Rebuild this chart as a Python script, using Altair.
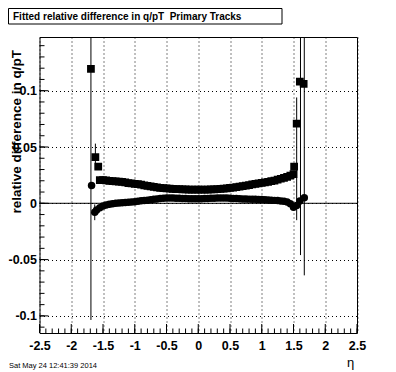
import altair as alt
import pandas as pd

# ---- data ----
sq_eta = [-1.69, -1.62, -1.575,
          -1.55, -1.50, -1.45, -1.40, -1.35, -1.30, -1.25, -1.20, -1.15, -1.10, -1.05,
          -1.00, -0.95, -0.90, -0.85, -0.80, -0.75, -0.70, -0.65, -0.60, -0.55,
          -0.50, -0.45, -0.40, -0.35, -0.30, -0.25, -0.20, -0.15, -0.10, -0.05,
          0.00, 0.05, 0.10, 0.15, 0.20, 0.25, 0.30, 0.35, 0.40, 0.45,
          0.50, 0.55, 0.60, 0.65, 0.70, 0.75, 0.80, 0.85, 0.90, 0.95,
          1.00, 1.05, 1.10, 1.15, 1.20, 1.25, 1.30, 1.35, 1.40, 1.45, 1.50,
          1.51, 1.55, 1.60, 1.66]
sq_val = [0.1194, 0.041, 0.0325,
          0.0205, 0.0205, 0.0203, 0.0200, 0.0198, 0.0195, 0.0192, 0.0190, 0.0185, 0.0180, 0.0177,
          0.0173, 0.0170, 0.0165, 0.0160, 0.0155, 0.0150, 0.0146, 0.0142, 0.0138, 0.0135,
          0.0132, 0.0130, 0.0128, 0.0126, 0.0125, 0.0124, 0.0123, 0.0122, 0.0122, 0.0121,
          0.0121, 0.0121, 0.0122, 0.0122, 0.0123, 0.0124, 0.0125, 0.0127, 0.0130, 0.0133,
          0.0137, 0.0140, 0.0144, 0.0148, 0.0152, 0.0157, 0.0162, 0.0167, 0.0172, 0.0176,
          0.0182, 0.0186, 0.0190, 0.0196, 0.0202, 0.0210, 0.0218, 0.0226, 0.0235, 0.0245, 0.0260,
          0.0325, 0.0707, 0.108, 0.106]

ci_eta = [-1.68, -1.63, -1.60, -1.55, -1.50, -1.45, -1.40, -1.35, -1.30, -1.25, -1.20,
          -1.15, -1.10, -1.05, -1.00, -0.95, -0.90, -0.85, -0.80, -0.75, -0.70, -0.65,
          -0.60, -0.55, -0.50, -0.45, -0.40, -0.35, -0.30, -0.25, -0.20, -0.15, -0.10,
          -0.05, 0.00, 0.05, 0.10, 0.15, 0.20, 0.25, 0.30, 0.35, 0.40, 0.45, 0.50,
          0.55, 0.60, 0.65, 0.70, 0.75, 0.80, 0.85, 0.90, 0.95, 1.00, 1.05, 1.10,
          1.15, 1.20, 1.25, 1.30, 1.35, 1.40, 1.45, 1.50, 1.55, 1.60, 1.67]
ci_val = [0.0158, -0.008, -0.006, -0.004, -0.0025, -0.0015, -0.0008, -0.0003, 0.0000, 0.0003, 0.0005,
          0.0008, 0.0010, 0.0012, 0.0014, 0.0018, 0.0022, 0.0025, 0.0028, 0.0032, 0.0035, 0.0038,
          0.0042, 0.0045, 0.0047, 0.0047, 0.0046, 0.0045, 0.0044, 0.0043, 0.0042, 0.0041, 0.0040,
          0.0040, 0.0040, 0.0041, 0.0042, 0.0043, 0.0044, 0.0045, 0.0046, 0.0047, 0.0047, 0.0046, 0.0045,
          0.0043, 0.0042, 0.0040, 0.0039, 0.0038, 0.0037, 0.0036, 0.0035, 0.0034, 0.0033, 0.0031, 0.0030,
          0.0028, 0.0026, 0.0024, 0.0021, 0.0018, 0.0012, -0.0005, -0.0035, -0.0020, 0.0020, 0.0050]

err_eta = [-1.69, -1.62, -1.63, 1.55, 1.61, 1.67]
err_lo = [-0.1036, 0.030, -0.015, -0.015, -0.046, -0.064]
err_hi = [0.34, 0.053, -0.001, 0.094, 0.34, 0.34]

x_major = [-2.5, -2.0, -1.5, -1.0, -0.5, 0.0, 0.5, 1.0, 1.5, 2.0, 2.5]
x_minor = [round(-2.5 + 0.1 * i, 2) for i in range(51)]
y_major = [-0.1, -0.05, 0.0, 0.05, 0.1]
y_minor = [round(-0.11 + 0.01 * i, 2) for i in range(26)]
zero_line = [0.0]

title_text = ["Fitted relative difference in q/pT\u00a0 Primary Tracks"]
ytitle_text = ["relative difference in q/pT"]
xtitle_text = ["\u03b7"]
date_text = ["Sat May 24 12:41:39 2014"]

# ---- layout ----
W, H = 317.5, 296
FONT = "Liberation Sans"

xs = alt.Scale(domain=[-2.5, 2.5], nice=False, zero=False)
ys = alt.Scale(domain=[-0.1152, 0.1477], nice=False, zero=False)

x_axis = alt.Axis(values=x_major, grid=True, gridDash=[1, 3], gridColor="black",
                  gridOpacity=1, gridWidth=1, ticks=False, domain=False,
                  labelExpr="'' + datum.value", labelFont=FONT, labelFontWeight="bold",
                  labelFontSize=12.5, labelColor="black", labelPadding=6,
                  labelFlush=False, labelOverlap=False, title=None)
y_axis = alt.Axis(values=y_major, grid=True, gridDash=[1, 3], gridColor="black",
                  gridOpacity=1, gridWidth=1, ticks=False, domain=False,
                  labelExpr="'' + datum.value", labelFont=FONT, labelFontWeight="bold",
                  labelFontSize=12.5, labelColor="black", labelPadding=3,
                  labelFlush=False, labelOverlap=False, title=None)

X = lambda f="x": alt.X(f"{f}:Q", scale=xs, axis=x_axis)
Y = lambda f="y": alt.Y(f"{f}:Q", scale=ys, axis=y_axis)

sq_df = pd.DataFrame({"x": sq_eta, "y": sq_val})
ci_df = pd.DataFrame({"x": ci_eta, "y": ci_val})
err_df = pd.DataFrame({"x": err_eta, "y": err_lo, "hi": err_hi})

base = alt.Chart(pd.DataFrame({"x": x_major, "y": [0.0] * len(x_major)})).mark_point(opacity=0).encode(x=X(), y=Y())

zero = alt.Chart(pd.DataFrame({"y": zero_line})).mark_rule(color="black", strokeWidth=1).encode(
    y=Y(), x=alt.value(0), x2=alt.value(W))

xminor = alt.Chart(pd.DataFrame({"x": x_minor})).mark_rule(color="black", strokeWidth=1).encode(
    x=X(), y=alt.value(H), y2=alt.value(H - 4.5))
xmajor = alt.Chart(pd.DataFrame({"x": x_major})).mark_rule(color="black", strokeWidth=1).encode(
    x=X(), y=alt.value(H), y2=alt.value(H - 9))
yminor = alt.Chart(pd.DataFrame({"y": y_minor})).mark_rule(color="black", strokeWidth=1).encode(
    y=Y(), x=alt.value(0), x2=alt.value(5))
ymajor = alt.Chart(pd.DataFrame({"y": y_major})).mark_rule(color="black", strokeWidth=1).encode(
    y=Y(), x=alt.value(0), x2=alt.value(9))

errs = alt.Chart(err_df).mark_rule(color="black", strokeWidth=1, clip=True).encode(
    x=X(), y=Y(), y2="hi:Q")

squares = alt.Chart(sq_df).mark_point(shape="square", filled=True, color="black",
                                      opacity=1, size=60, clip=True).encode(x=X(), y=Y())
circles = alt.Chart(ci_df).mark_point(shape="circle", filled=True, color="black",
                                      opacity=1, size=56, clip=True).encode(x=X(), y=Y())

one = pd.DataFrame({"t": title_text})
tbox = alt.Chart(one).mark_rect(fill="white", stroke="black", strokeWidth=1).encode(
    x=alt.value(-31), x2=alt.value(242.5), y=alt.value(-28.5), y2=alt.value(-13))
ttext = alt.Chart(one).mark_text(font=FONT, fontWeight="bold", fontSize=10, align="left",
                                 baseline="middle", color="black").encode(
    x=alt.value(-26.5), y=alt.value(-20.5), text="t:N")

ytitle = alt.Chart(pd.DataFrame({"t": ytitle_text})).mark_text(
    font=FONT, fontWeight="bold", fontSize=13.5, angle=270, align="right",
    baseline="middle", color="black").encode(x=alt.value(-23), y=alt.value(13), text="t:N")
xtitle = alt.Chart(pd.DataFrame({"t": xtitle_text})).mark_text(
    font=FONT, fontSize=13, align="center", baseline="middle", color="black").encode(
    x=alt.value(311), y=alt.value(326), text="t:N")
date = alt.Chart(pd.DataFrame({"t": date_text})).mark_text(
    font=FONT, fontSize=7.5, align="left", baseline="middle", color="black").encode(
    x=alt.value(-30.5), y=alt.value(329), text="t:N")

chart = alt.layer(base, zero, xminor, xmajor, yminor, ymajor, errs, squares, circles,
                  tbox, ttext, ytitle, xtitle, date).properties(
    width=W, height=H,
    padding={"left": 31.5, "top": 29, "right": 25, "bottom": 37},
    autosize=alt.AutoSizeParams(type="none"),
    background="white",
).configure_view(stroke="black", strokeWidth=1)

chart.save("out.html", embed_options={"renderer": "svg", "actions": False})
